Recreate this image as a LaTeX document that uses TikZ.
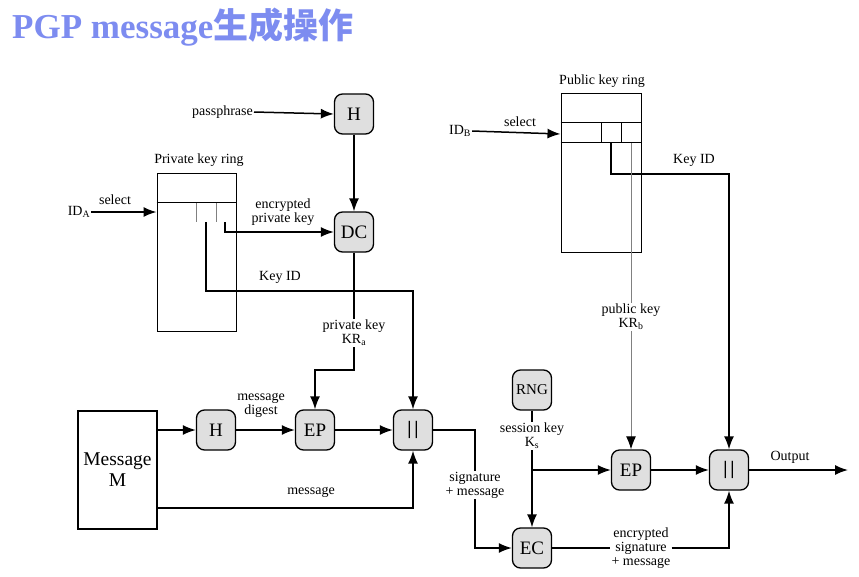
\documentclass[tikz,border=0pt]{standalone}
\usepackage{fontspec}
\setmainfont{Liberation Serif}
\newfontfamily\cjk{Noto Sans CJK SC}
\usetikzlibrary{arrows.meta,positioning}
\definecolor{titleblue}{RGB}{125,140,240}
\tikzset{
    op/.style={draw, line width=1.3pt, rounded corners=8pt, fill=gray!25,
        minimum width=39pt, minimum height=40pt, inner sep=1pt,
        font=\fontsize{19}{19}\selectfont},
    ring/.style={draw, line width=1pt},
    lbl/.style={font=\fontsize{14}{14}\selectfont, align=center, inner sep=1pt},
    ln/.style={line width=1.5pt},
    arr/.style={line width=1.5pt, -{Latex[length=13pt,width=10pt]}},
    gln/.style={gray, line width=1pt}
}
\newcommand{\concat}{\textbf{|\kern3pt|}}
\begin{document}
\begin{tikzpicture}[x=1pt, y=-1pt]
    \useasboundingbox (0,0) rectangle (859,576);
    % title
    \node[anchor=west, inner sep=0pt, text=titleblue] (title) at (12,27)
        {\fontsize{35}{35}\selectfont\bfseries PGP message{\cjk\bfseries 生成操作}};

    % private side
    \node[ring, minimum width=79pt, minimum height=158pt] (prk) at (196.5,252) {};
    \node[lbl] (prklbl) at (199,160) {Private key ring};
    \node[lbl] (ida) at (79,212) {ID\textsubscript{A}};
    \node[lbl] (selA) at (115,200) {select};
    \node[op] (hp) at (354,114) {H};
    \node[op] (dc) at (354,232) {DC};
    \node[lbl, anchor=east] (pass) at (254,112) {passphrase};
    \node[lbl] (encpk) at (283,212) {encrypted\\private key};
    \node[lbl] (kidA) at (280,277) {Key ID};
    \node[lbl] (pka) at (354,333) {private key\\KR\textsubscript{a}};

    \node[draw, line width=1.3pt, minimum width=79pt, minimum height=118pt,
        align=center, font=\fontsize{19.5}{21}\selectfont] (msg) at (117.5,470) {Message\\M};
    \node[op] (hm) at (216,430) {H};
    \node[op] (ep1) at (315,430) {EP};
    \node[op] (or1) at (413,430) {\concat};
    \node[lbl] (dig) at (261,405) {message\\digest};
    \node[lbl] (mtxt) at (311,492) {message};
    \node[lbl] (sigm) at (475,485) {signature\\+ message};

    % public side
    \node[ring, minimum width=80pt, minimum height=159pt] (pubk) at (601,172.5) {};
    \node[lbl] (pubklbl) at (602,81) {Public key ring};
    \node[lbl] (idb) at (460,131) {ID\textsubscript{B}};
    \node[lbl] (selB) at (520,122) {select};
    \node[lbl] (kidB) at (694,160) {Key ID};
    \node[lbl] (pkb) at (631,317) {public key\\KR\textsubscript{b}};
    \node[op] (rng) at (532,390) {\fontsize{15}{15}\selectfont RNG};
    \node[lbl] (sk) at (532,436) {session key\\K\textsubscript{s}};
    \node[op] (ep2) at (631,470) {EP};
    \node[op] (or2) at (729,470) {\concat};
    \node[op] (ec) at (532,548) {EC};
    \node[lbl] (esm) at (641,548) {encrypted\\signature\\+ message};
    \node[lbl] (outlbl) at (790,457) {Output};
    \coordinate (out) at (848,470);

    % private key ring inside
    \draw[ring] ([yshift=-30pt]prk.north west) -- ([yshift=-30pt]prk.north east);
    \foreach \x in {196,216} {
        \draw[gln] (\x,203) -- (\x,222);
    }
    % public key ring inside
    \draw[ring] ([yshift=-30pt]pubk.north west) -- ([yshift=-30pt]pubk.north east);
    \draw[ring] ([yshift=-50pt]pubk.north west) -- ([yshift=-50pt]pubk.north east);
    \foreach \x in {601,621} {
        \draw[ring] (\x,123) -- (\x,143);
    }

    % connectors, private side
    \draw[arr] (ida.east) -- (prk.west |- ida);
    \draw[arr] (pass.east) -- (hp.west);
    \draw[arr] (hp.south) -- (dc.north);
    \draw[arr] (225,222) -- (225,232) -- (dc.west);
    \draw[arr] (206,222) -- (206,291) -| (or1.north);
    \draw[ln] (dc.south) -- (pka.north);
    \draw[arr] (pka.south) -- (pka.south |- 0,370) -| (ep1.north);
    \draw[arr] (msg.east |- hm) -- (hm.west);
    \draw[arr] (hm.east) -- (ep1.west);
    \draw[arr] (ep1.east) -- (or1.west);
    \draw[arr] (msg.east |- 0,508) -| (or1.south);
    \draw[ln] (or1.east) -| (sigm.north);
    \draw[arr] (sigm.south) |- (ec.west);

    % connectors, public side
    \draw[arr] (idb.east) -- (pubk.west |- 0,134);
    \draw[arr] (611,143) -- (611,174) -| (or2.north);
    \draw[gln] (631,143) -- (pkb.north);
    \draw[gln, -{Latex[length=13pt,width=10pt,color=black]}] (pkb.south) -- (ep2.north);
    \draw[ln] (rng.south) -- (sk.north);
    \draw[arr] (sk.south) -- (ec.north);
    \coordinate (br) at (sk.south |- ep2.west);
    \draw[arr] (br) -- (ep2.west);
    \draw[arr] (ep2.east) -- (or2.west);
    \draw[ln] (ec.east) -- (esm.west);
    \draw[arr] (esm.east) -| (or2.south);
    \draw[arr] (or2.east) -- (out);
\end{tikzpicture}
\end{document}
